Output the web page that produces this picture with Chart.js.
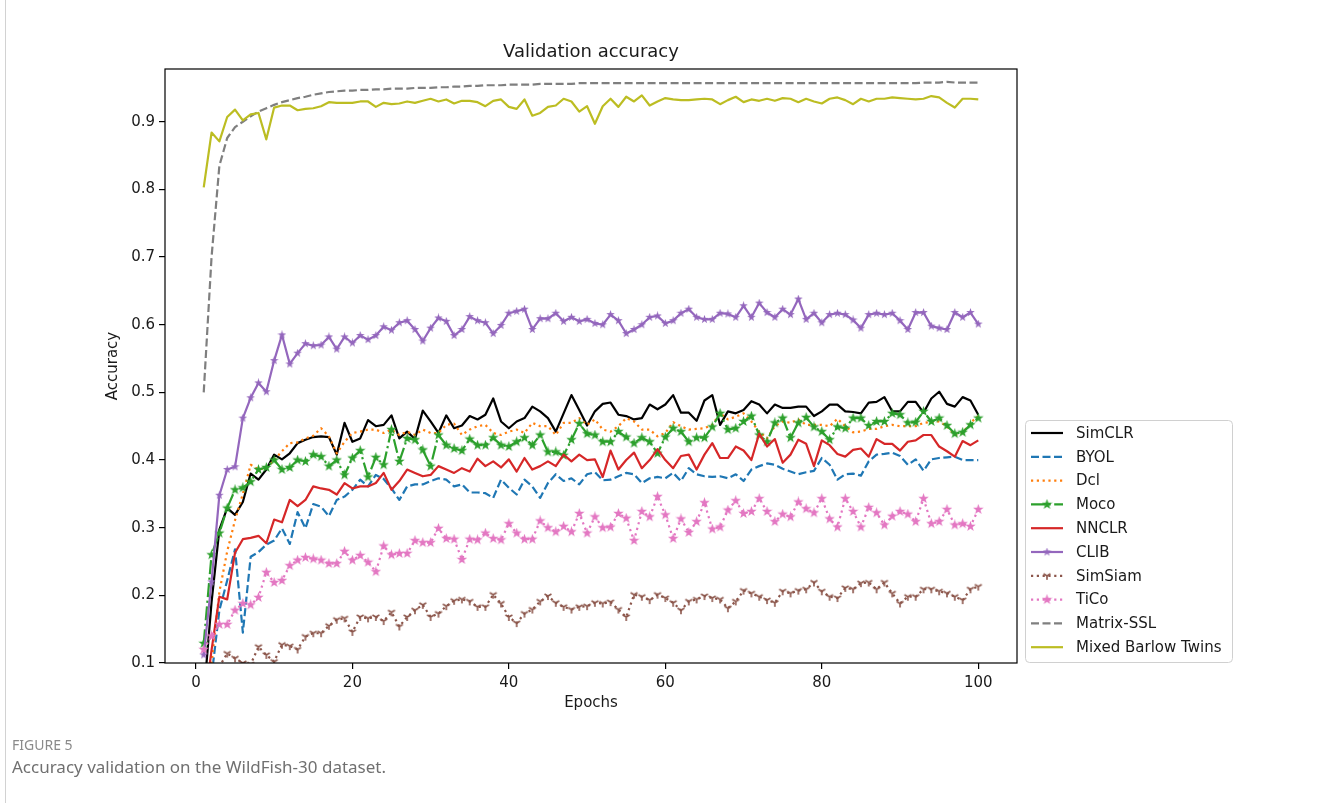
<!DOCTYPE html>
<html>
<head>
<meta charset="utf-8">
<script src="https://cdn.jsdelivr.net/npm/chart.js@4"></script>
<style>
    body { margin: 0; background: #fff; }
    #wrap { position: relative; width: 1330px; height: 803px; overflow: hidden; }
    #frame { position: absolute; left: 5px; top: -12px; width: 1340px; height: 840px; border: 1px solid #d2d2d2; border-radius: 10px; }
    #chart { position: absolute; left: 0; top: 0; }
    .fig { position: absolute; left: 12px; top: 735px; font: 14px "Noto Sans", sans-serif; color: #8a8a8a; }
    .cap { position: absolute; left: 12px; top: 755px; font: 17px "Noto Sans", sans-serif; color: #707070; }
</style>
</head>
<body>
<div id="wrap">
    <div id="frame"></div>
    <canvas id="chart" width="1330" height="803"></canvas>
    <div class="fig">FIGURE 5</div>
    <div class="cap">Accuracy validation on the WildFish-30 dataset.</div>
</div>
<script>
const epochs = Array.from({ length: 100 }, (_, i) => i + 1);
const xTicks = [0, 20, 40, 60, 80, 100];
const yTicks = [0.1, 0.2, 0.3, 0.4, 0.5, 0.6, 0.7, 0.8, 0.9];
const seriesNames = ['SimCLR', 'BYOL', 'Dcl', 'Moco', 'NNCLR', 'CLIB', 'SimSiam', 'TiCo', 'Matrix-SSL', 'Mixed Barlow Twins'];

const simclr = [0.05, 0.19, 0.297, 0.329, 0.319, 0.338, 0.38, 0.371, 0.386, 0.408,
    0.401, 0.41, 0.425, 0.43, 0.434, 0.435, 0.434, 0.408, 0.455, 0.427,
    0.432, 0.459, 0.45, 0.452, 0.466, 0.432, 0.442, 0.431, 0.473, 0.457,
    0.44, 0.466, 0.447, 0.451, 0.465, 0.46, 0.467, 0.491, 0.457, 0.447,
    0.457, 0.462, 0.479, 0.472, 0.462, 0.442, 0.469, 0.496, 0.474, 0.451,
    0.472, 0.483, 0.485, 0.467, 0.465, 0.46, 0.462, 0.482, 0.475, 0.482,
    0.496, 0.47, 0.47, 0.458, 0.488, 0.496, 0.452, 0.472, 0.469, 0.474,
    0.487, 0.482, 0.469, 0.482, 0.477, 0.477, 0.479, 0.479, 0.465, 0.472,
    0.482, 0.482, 0.472, 0.471, 0.469, 0.485, 0.486, 0.493, 0.472, 0.472,
    0.486, 0.486, 0.47, 0.491, 0.501, 0.483, 0.479, 0.493, 0.488, 0.467];

const byol = [0.03, 0.08, 0.178, 0.222, 0.268, 0.145, 0.257, 0.264, 0.275, 0.281,
    0.299, 0.276, 0.323, 0.299, 0.335, 0.331, 0.317, 0.341, 0.346, 0.356,
    0.371, 0.361, 0.378, 0.372, 0.358, 0.341, 0.361, 0.364, 0.364, 0.369,
    0.373, 0.371, 0.361, 0.364, 0.352, 0.352, 0.351, 0.344, 0.371, 0.359,
    0.349, 0.371, 0.361, 0.344, 0.366, 0.379, 0.369, 0.373, 0.364, 0.379,
    0.382, 0.37, 0.371, 0.376, 0.381, 0.379, 0.366, 0.373, 0.375, 0.373,
    0.381, 0.369, 0.388, 0.379, 0.376, 0.375, 0.376, 0.373, 0.379, 0.369,
    0.386, 0.391, 0.395, 0.393, 0.387, 0.383, 0.379, 0.382, 0.384, 0.403,
    0.393, 0.371, 0.379, 0.38, 0.377, 0.398, 0.408, 0.409, 0.411, 0.406,
    0.393, 0.401, 0.384, 0.401, 0.403, 0.404, 0.405, 0.4, 0.4, 0.4];

const dcl = [0.04, 0.1, 0.205, 0.265, 0.311, 0.35, 0.393, 0.386, 0.388, 0.4,
    0.413, 0.425, 0.426, 0.432, 0.436, 0.447, 0.435, 0.41, 0.427, 0.44,
    0.442, 0.445, 0.445, 0.44, 0.445, 0.437, 0.442, 0.437, 0.445, 0.44,
    0.44, 0.452, 0.454, 0.437, 0.445, 0.45, 0.452, 0.44, 0.437, 0.442,
    0.445, 0.44, 0.455, 0.45, 0.45, 0.437, 0.455, 0.455, 0.462, 0.452,
    0.46, 0.445, 0.442, 0.45, 0.462, 0.457, 0.445, 0.445, 0.435, 0.44,
    0.456, 0.45, 0.445, 0.446, 0.447, 0.452, 0.469, 0.46, 0.464, 0.469,
    0.457, 0.442, 0.432, 0.45, 0.457, 0.455, 0.46, 0.452, 0.452, 0.452,
    0.45, 0.461, 0.45, 0.441, 0.442, 0.446, 0.446, 0.45, 0.452, 0.45,
    0.45, 0.45, 0.455, 0.456, 0.457, 0.45, 0.437, 0.44, 0.455, 0.465];

const moco = [0.129, 0.26, 0.292, 0.329, 0.356, 0.359, 0.368, 0.386, 0.389, 0.4,
    0.386, 0.389, 0.4, 0.398, 0.408, 0.405, 0.391, 0.4, 0.378, 0.403,
    0.414, 0.375, 0.404, 0.393, 0.445, 0.398, 0.432, 0.43, 0.415, 0.391,
    0.437, 0.422, 0.417, 0.414, 0.431, 0.422, 0.422, 0.433, 0.422, 0.42,
    0.427, 0.433, 0.422, 0.437, 0.412, 0.412, 0.407, 0.43, 0.454, 0.439,
    0.437, 0.427, 0.427, 0.442, 0.434, 0.425, 0.433, 0.427, 0.41, 0.434,
    0.447, 0.442, 0.427, 0.433, 0.433, 0.449, 0.469, 0.445, 0.447, 0.457,
    0.465, 0.437, 0.427, 0.455, 0.462, 0.433, 0.455, 0.463, 0.449, 0.442,
    0.43, 0.449, 0.447, 0.462, 0.462, 0.451, 0.457, 0.457, 0.469, 0.467,
    0.455, 0.456, 0.472, 0.457, 0.462, 0.451, 0.439, 0.441, 0.452, 0.462];

const nnclr = [0.03, 0.119, 0.198, 0.194, 0.263, 0.283, 0.285, 0.288, 0.277, 0.312,
    0.308, 0.341, 0.332, 0.341, 0.361, 0.358, 0.356, 0.349, 0.366, 0.358,
    0.361, 0.361, 0.366, 0.381, 0.356, 0.369, 0.386, 0.381, 0.376, 0.378,
    0.391, 0.386, 0.381, 0.388, 0.383, 0.402, 0.391, 0.398, 0.389, 0.401,
    0.383, 0.403, 0.386, 0.391, 0.398, 0.391, 0.408, 0.398, 0.408, 0.4,
    0.401, 0.375, 0.414, 0.386, 0.4, 0.411, 0.388, 0.4, 0.416, 0.4,
    0.388, 0.406, 0.408, 0.386, 0.408, 0.425, 0.403, 0.403, 0.42, 0.414,
    0.4, 0.439, 0.42, 0.431, 0.396, 0.408, 0.43, 0.424, 0.391, 0.429,
    0.422, 0.409, 0.405, 0.415, 0.417, 0.405, 0.431, 0.424, 0.424, 0.414,
    0.427, 0.429, 0.437, 0.437, 0.42, 0.413, 0.405, 0.428, 0.422, 0.429];

const clib = [0.112, 0.22, 0.348, 0.386, 0.39, 0.462, 0.492, 0.514, 0.501, 0.547,
    0.585, 0.542, 0.558, 0.572, 0.569, 0.57, 0.582, 0.564, 0.582, 0.573,
    0.584, 0.578, 0.584, 0.597, 0.592, 0.603, 0.606, 0.593, 0.576, 0.595,
    0.61, 0.605, 0.584, 0.593, 0.612, 0.606, 0.603, 0.587, 0.599, 0.617,
    0.62, 0.623, 0.593, 0.609, 0.609, 0.617, 0.605, 0.611, 0.605, 0.608,
    0.602, 0.6, 0.615, 0.606, 0.587, 0.593, 0.6, 0.611, 0.613, 0.602,
    0.606, 0.617, 0.623, 0.611, 0.608, 0.608, 0.617, 0.616, 0.611, 0.628,
    0.611, 0.632, 0.618, 0.611, 0.623, 0.615, 0.638, 0.608, 0.617, 0.603,
    0.615, 0.617, 0.615, 0.607, 0.595, 0.615, 0.617, 0.615, 0.617, 0.606,
    0.593, 0.618, 0.618, 0.598, 0.595, 0.593, 0.618, 0.611, 0.618, 0.601];

const simsiam = [0.02, 0.06, 0.095, 0.114, 0.107, 0.1, 0.098, 0.124, 0.112, 0.102,
    0.127, 0.125, 0.12, 0.139, 0.144, 0.144, 0.155, 0.164, 0.166, 0.146,
    0.168, 0.166, 0.168, 0.162, 0.175, 0.154, 0.168, 0.178, 0.186, 0.168,
    0.173, 0.184, 0.192, 0.194, 0.191, 0.183, 0.183, 0.201, 0.188, 0.168,
    0.159, 0.173, 0.179, 0.191, 0.199, 0.189, 0.183, 0.179, 0.183, 0.184,
    0.189, 0.188, 0.19, 0.179, 0.168, 0.201, 0.198, 0.193, 0.201, 0.196,
    0.189, 0.178, 0.191, 0.194, 0.199, 0.196, 0.194, 0.181, 0.191, 0.207,
    0.203, 0.198, 0.193, 0.189, 0.206, 0.203, 0.207, 0.209, 0.219, 0.206,
    0.198, 0.196, 0.211, 0.209, 0.218, 0.219, 0.209, 0.219, 0.203, 0.188,
    0.198, 0.198, 0.209, 0.209, 0.206, 0.203, 0.198, 0.193, 0.209, 0.213];

const tico = [0.12, 0.14, 0.157, 0.157, 0.178, 0.188, 0.186, 0.197, 0.234, 0.219,
    0.222, 0.244, 0.252, 0.256, 0.254, 0.252, 0.247, 0.247, 0.265, 0.252,
    0.259, 0.249, 0.235, 0.273, 0.26, 0.262, 0.262, 0.281, 0.278, 0.278,
    0.299, 0.284, 0.283, 0.253, 0.283, 0.282, 0.292, 0.284, 0.282, 0.306,
    0.292, 0.283, 0.283, 0.31, 0.3, 0.294, 0.302, 0.294, 0.321, 0.292,
    0.316, 0.3, 0.301, 0.321, 0.314, 0.281, 0.324, 0.316, 0.346, 0.319,
    0.284, 0.313, 0.293, 0.309, 0.337, 0.298, 0.301, 0.326, 0.34, 0.321,
    0.324, 0.343, 0.324, 0.309, 0.32, 0.316, 0.338, 0.328, 0.322, 0.343,
    0.313, 0.301, 0.343, 0.324, 0.301, 0.33, 0.322, 0.304, 0.317, 0.324,
    0.32, 0.309, 0.343, 0.306, 0.309, 0.327, 0.304, 0.306, 0.302, 0.327];

const matrixSsl = [0.5, 0.7, 0.835, 0.876, 0.892, 0.9, 0.908, 0.915, 0.92, 0.925,
    0.929, 0.932, 0.935, 0.937, 0.94, 0.942, 0.944, 0.945, 0.946, 0.946,
    0.947, 0.947, 0.948, 0.948, 0.949, 0.949, 0.949, 0.95, 0.95, 0.95,
    0.951, 0.951, 0.952, 0.952, 0.953, 0.953, 0.954, 0.954, 0.954, 0.955,
    0.955, 0.955, 0.955, 0.956, 0.956, 0.956, 0.956, 0.956, 0.957, 0.957,
    0.957, 0.957, 0.957, 0.957, 0.957, 0.957, 0.957, 0.957, 0.957, 0.957,
    0.957, 0.957, 0.957, 0.957, 0.957, 0.957, 0.957, 0.957, 0.957, 0.957,
    0.957, 0.957, 0.957, 0.957, 0.957, 0.957, 0.957, 0.957, 0.957, 0.957,
    0.957, 0.957, 0.957, 0.957, 0.957, 0.957, 0.957, 0.957, 0.957, 0.957,
    0.957, 0.957, 0.958, 0.958, 0.958, 0.959, 0.958, 0.958, 0.958, 0.958];

const mixedBt = [0.803, 0.884, 0.871, 0.907, 0.918, 0.902, 0.911, 0.913, 0.874, 0.921,
    0.924, 0.924, 0.917, 0.919, 0.92, 0.923, 0.929, 0.928, 0.928, 0.928,
    0.93, 0.93, 0.922, 0.928, 0.926, 0.927, 0.93, 0.928, 0.931, 0.934,
    0.93, 0.933, 0.927, 0.931, 0.931, 0.929, 0.923, 0.931, 0.933, 0.922,
    0.919, 0.933, 0.909, 0.913, 0.922, 0.924, 0.934, 0.93, 0.915, 0.923,
    0.897, 0.923, 0.934, 0.922, 0.937, 0.93, 0.939, 0.924, 0.93, 0.935,
    0.933, 0.932, 0.932, 0.933, 0.934, 0.933, 0.926, 0.932, 0.937, 0.929,
    0.933, 0.931, 0.934, 0.931, 0.935, 0.934, 0.929, 0.934, 0.93, 0.927,
    0.934, 0.936, 0.932, 0.926, 0.934, 0.93, 0.934, 0.934, 0.936, 0.935,
    0.934, 0.933, 0.934, 0.938, 0.936, 0.928, 0.921, 0.934, 0.934, 0.933];

// marker images, drawn like matplotlib '*' and '1'
function starMarker(color, size) {
    const c = document.createElement('canvas');
    c.width = c.height = size;
    const g = c.getContext('2d');
    g.fillStyle = color;
    g.beginPath();
    for (let i = 0; i < 10; i++) {
        const r = i % 2 ? size * 0.2 : size * 0.5;
        const a = -Math.PI / 2 + i * Math.PI / 5;
        g.lineTo(size / 2 + r * Math.cos(a), size / 2 + r * Math.sin(a));
    }
    g.closePath();
    g.fill();
    return c;
}

function triDownMarker(color, size) {
    const c = document.createElement('canvas');
    c.width = c.height = size;
    const g = c.getContext('2d');
    const m = size / 2, r = size / 2 - 1;
    g.strokeStyle = color;
    g.lineWidth = 1.6;
    g.beginPath();
    g.moveTo(m, m); g.lineTo(m, m + r);
    g.moveTo(m, m); g.lineTo(m - 0.866 * r, m - 0.5 * r);
    g.moveTo(m, m); g.lineTo(m + 0.866 * r, m - 0.5 * r);
    g.stroke();
    return c;
}

const lw = 2.2;
const dashed = [8, 3.5];
const dotted = [2.2, 3.6];
const dashDot = [14, 3.5, 2.2, 3.5];

const styles = [
    { color: '#000000', dash: [], marker: null },
    { color: '#1f77b4', dash: dashed, marker: null },
    { color: '#ff7f0e', dash: dotted, marker: null },
    { color: '#2ca02c', dash: dashDot, marker: starMarker('#2ca02c', 11) },
    { color: '#d62728', dash: [], marker: null },
    { color: '#9467bd', dash: [], marker: starMarker('#9467bd', 9) },
    { color: '#8c564b', dash: dotted, marker: triDownMarker('#8c564b', 10) },
    { color: '#e377c2', dash: dotted, marker: starMarker('#e377c2', 11) },
    { color: '#7f7f7f', dash: dashed, marker: null },
    { color: '#bcbd22', dash: [], marker: null }
];

const allSeries = [simclr, byol, dcl, moco, nnclr, clib, simsiam, tico, matrixSsl, mixedBt];

const datasets = allSeries.map((values, i) => ({
    label: seriesNames[i],
    data: values.map((v, j) => ({ x: epochs[j], y: v })),
    borderColor: styles[i].color,
    backgroundColor: styles[i].color,
    borderWidth: lw,
    borderDash: styles[i].dash,
    borderCapStyle: 'butt',
    borderJoinStyle: 'round',
    pointStyle: styles[i].marker || 'circle',
    pointRadius: styles[i].marker ? 4 : 0,
    pointHoverRadius: 0,
    fill: false,
    tension: 0,
    clip: 0,
    order: allSeries.length - i
}));

const textColor = '#1a1a1a';
const font = 'DejaVu Sans';

const decorations = {
    id: 'decorations',
    afterDraw(chart) {
        const ctx = chart.ctx;
        const a = chart.chartArea;
        ctx.save();
        // axes box
        ctx.setLineDash([]);
        ctx.strokeStyle = '#000';
        ctx.lineWidth = 1.2;
        ctx.strokeRect(a.left, a.top, a.right - a.left, a.bottom - a.top);

        ctx.fillStyle = textColor;
        ctx.textAlign = 'center';
        ctx.textBaseline = 'middle';
        ctx.font = '18px "' + font + '"';
        ctx.fillText('Validation accuracy', (a.left + a.right) / 2, 52);
        ctx.font = '15px "' + font + '"';
        ctx.fillText('Epochs', (a.left + a.right) / 2, 703);
        ctx.save();
        ctx.translate(113, (a.top + a.bottom) / 2);
        ctx.rotate(-Math.PI / 2);
        ctx.fillText('Accuracy', 0, 0);
        ctx.restore();

        // legend
        const bx = 1025.5, by = 420.5, bw = 207, bh = 242;
        ctx.fillStyle = 'rgba(255,255,255,0.8)';
        ctx.strokeStyle = '#d0d0d0';
        ctx.lineWidth = 1;
        ctx.beginPath();
        ctx.roundRect(bx, by, bw, bh, 4);
        ctx.fill();
        ctx.stroke();

        chart.data.datasets.forEach((ds, i) => {
            const y = 433 + i * 23.8;
            ctx.strokeStyle = ds.borderColor;
            ctx.lineWidth = lw;
            ctx.lineCap = 'butt';
            ctx.setLineDash(ds.borderDash);
            ctx.beginPath();
            ctx.moveTo(1031, y);
            ctx.lineTo(1063, y);
            ctx.stroke();
            ctx.setLineDash([]);
            if (styles[i].marker) {
                const m = styles[i].marker;
                ctx.drawImage(m, 1047 - m.width / 2, y - m.height / 2);
            }
            ctx.fillStyle = textColor;
            ctx.textAlign = 'left';
            ctx.textBaseline = 'middle';
            ctx.font = '15px "' + font + '"';
            ctx.fillText(ds.label, 1076, y + 1);
        });
        ctx.restore();
    }
};

new Chart(document.getElementById('chart'), {
    type: 'line',
    data: { datasets: datasets },
    options: {
        responsive: false,
        animation: false,
        devicePixelRatio: 1,
        layout: { padding: { left: 0, right: 313, top: 69, bottom: 100 } },
        plugins: {
            legend: { display: false },
            title: { display: false },
            tooltip: { enabled: false }
        },
        scales: {
            x: {
                type: 'linear',
                min: -3.95,
                max: 104.95,
                afterBuildTicks: scale => { scale.ticks = xTicks.map(v => ({ value: v })); },
                afterFit: scale => { scale.height = 40; },
                ticks: {
                    color: textColor,
                    font: { family: font, size: 15 },
                    padding: 5,
                    maxRotation: 0,
                    callback: v => String(v)
                },
                grid: { drawOnChartArea: false, drawTicks: true, tickLength: 6, color: '#000', lineWidth: 1.2 },
                border: { display: false }
            },
            y: {
                type: 'linear',
                min: 0.1,
                max: 0.978,
                afterBuildTicks: scale => { scale.ticks = yTicks.map(v => ({ value: v })); },
                afterFit: scale => { scale.width = 165; },
                ticks: {
                    color: textColor,
                    font: { family: font, size: 15 },
                    padding: 4,
                    callback: v => v.toFixed(1)
                },
                grid: { drawOnChartArea: false, drawTicks: true, tickLength: 6, color: '#000', lineWidth: 1.2 },
                border: { display: false }
            }
        }
    },
    plugins: [decorations]
});
</script>
</body>
</html>
